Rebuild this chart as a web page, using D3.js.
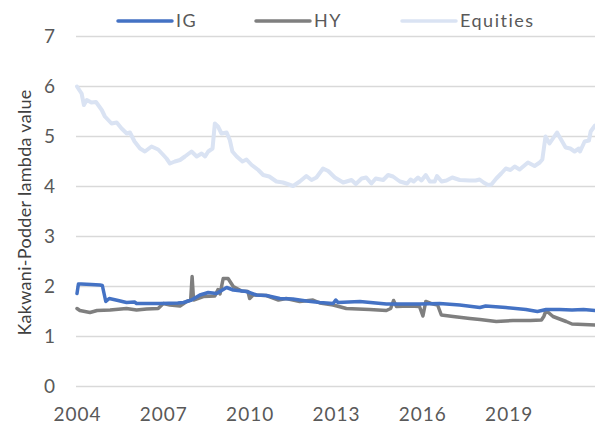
<!DOCTYPE html>
<html>
<head>
<meta charset="utf-8">
<script src="https://cdn.jsdelivr.net/npm/d3@7"></script>
<style>
  body { margin: 0; background: #fff; }
  svg text { font-family: Lato, "Open Sans", sans-serif; fill: #595959; }
</style>
</head>
<body>
<div id="chart"></div>
<script>
// series: [decimal year, lambda]
const igData = [
  [2004.0, 1.86], [2004.05, 2.05], [2004.15, 2.05], [2004.5, 2.04], [2004.8, 2.03], [2004.88, 2.02],
  [2005.0, 1.70], [2005.12, 1.76], [2005.43, 1.72], [2005.72, 1.68], [2006.0, 1.69], [2006.07, 1.66],
  [2006.88, 1.66], [2007.5, 1.67], [2007.7, 1.68], [2007.98, 1.73], [2008.27, 1.83], [2008.56, 1.88],
  [2008.85, 1.86], [2009.08, 1.94], [2009.2, 1.98], [2009.43, 1.93], [2009.89, 1.90], [2010.24, 1.83],
  [2010.58, 1.82], [2011.05, 1.76], [2011.5, 1.75], [2011.97, 1.71], [2012.44, 1.68], [2012.9, 1.66],
  [2012.99, 1.73], [2013.07, 1.68], [2013.83, 1.70], [2014.75, 1.65], [2015.9, 1.65], [2016.6, 1.66],
  [2017.3, 1.63], [2018.0, 1.58], [2018.2, 1.61], [2018.9, 1.58], [2019.6, 1.54], [2020.0, 1.50],
  [2020.3, 1.54], [2020.77, 1.54], [2021.2, 1.53], [2021.6, 1.54], [2022.0, 1.52]
];
const hyData = [
  [2004.0, 1.56], [2004.1, 1.52], [2004.45, 1.48], [2004.7, 1.52], [2005.15, 1.53], [2005.72, 1.56],
  [2006.07, 1.53], [2006.42, 1.55], [2006.82, 1.56], [2007.0, 1.66], [2007.23, 1.63], [2007.58, 1.61],
  [2007.81, 1.70], [2007.95, 1.73], [2008.0, 2.20], [2008.05, 1.73], [2008.39, 1.80], [2008.79, 1.81],
  [2008.9, 1.94], [2008.97, 1.85], [2009.08, 2.16], [2009.25, 2.16], [2009.43, 2.00], [2009.72, 1.91],
  [2009.94, 1.90], [2010.0, 1.76], [2010.12, 1.83], [2010.58, 1.82], [2011.0, 1.73], [2011.27, 1.76],
  [2011.74, 1.70], [2012.2, 1.73], [2012.44, 1.67], [2012.9, 1.63], [2013.36, 1.56], [2014.17, 1.54],
  [2014.75, 1.52], [2014.9, 1.56], [2015.0, 1.72], [2015.1, 1.60], [2015.56, 1.61], [2015.9, 1.60],
  [2016.02, 1.41], [2016.12, 1.70], [2016.3, 1.66], [2016.53, 1.63], [2016.66, 1.43], [2017.07, 1.40],
  [2017.65, 1.36], [2018.0, 1.34], [2018.57, 1.30], [2019.15, 1.32], [2019.75, 1.32], [2020.14, 1.33],
  [2020.22, 1.40], [2020.3, 1.52], [2020.54, 1.40], [2021.0, 1.30], [2021.2, 1.25], [2022.0, 1.23]
];
const eqData = [
  [2004.0, 6.00], [2004.16, 5.86], [2004.24, 5.63], [2004.34, 5.73], [2004.5, 5.68], [2004.66, 5.69],
  [2004.86, 5.53], [2004.97, 5.40], [2005.2, 5.26], [2005.38, 5.28], [2005.55, 5.16], [2005.73, 5.06],
  [2005.84, 5.08], [2006.0, 4.90], [2006.19, 4.76], [2006.36, 4.70], [2006.59, 4.80], [2006.82, 4.74],
  [2007.0, 4.63], [2007.11, 4.56], [2007.23, 4.46], [2007.4, 4.50], [2007.58, 4.53], [2007.75, 4.60],
  [2007.98, 4.70], [2008.16, 4.60], [2008.33, 4.66], [2008.45, 4.60], [2008.56, 4.70], [2008.71, 4.76],
  [2008.79, 5.26], [2008.9, 5.20], [2009.02, 5.06], [2009.2, 5.08], [2009.31, 4.93], [2009.4, 4.70],
  [2009.55, 4.60], [2009.75, 4.50], [2009.89, 4.54], [2010.07, 4.43], [2010.3, 4.33], [2010.47, 4.23],
  [2010.68, 4.20], [2010.93, 4.10], [2011.16, 4.08], [2011.51, 4.01], [2011.74, 4.10], [2011.97, 4.21],
  [2012.15, 4.13], [2012.32, 4.18], [2012.55, 4.36], [2012.73, 4.31], [2012.96, 4.18], [2013.25, 4.08],
  [2013.54, 4.13], [2013.69, 4.05], [2013.89, 4.16], [2014.05, 4.18], [2014.23, 4.06], [2014.38, 4.16],
  [2014.64, 4.13], [2014.81, 4.23], [2014.98, 4.20], [2015.22, 4.10], [2015.47, 4.06], [2015.59, 4.14],
  [2015.7, 4.10], [2015.85, 4.18], [2015.97, 4.12], [2016.12, 4.23], [2016.26, 4.10], [2016.43, 4.10],
  [2016.51, 4.21], [2016.67, 4.10], [2016.84, 4.12], [2017.04, 4.18], [2017.3, 4.13], [2017.64, 4.12],
  [2017.85, 4.12], [2017.99, 4.14], [2018.13, 4.08], [2018.28, 4.03], [2018.4, 4.04], [2018.57, 4.16],
  [2018.74, 4.26], [2018.9, 4.36], [2019.06, 4.33], [2019.21, 4.40], [2019.38, 4.34], [2019.67, 4.48],
  [2019.9, 4.41], [2020.08, 4.48], [2020.17, 4.54], [2020.28, 5.00], [2020.42, 4.86], [2020.68, 5.08],
  [2020.83, 4.93], [2020.98, 4.78], [2021.14, 4.76], [2021.29, 4.70], [2021.44, 4.76], [2021.48, 4.70],
  [2021.64, 4.90], [2021.79, 4.92], [2021.85, 5.10], [2022.0, 5.22]
];
const xTicks = [2004, 2007, 2010, 2013, 2016, 2019];
const yTicks = [0, 1, 2, 3, 4, 5, 6, 7];
const seriesNames = ["IG", "HY", "Equities"];
const seriesColors = ["#4472c4", "#7f7f7f", "#dae3f3"];

const width = 595, height = 426;
const margin = { top: 36.5, right: 0, bottom: 39.5, left: 77 };
const innerW = width - margin.left - margin.right;
const innerH = height - margin.top - margin.bottom;

const svg = d3.select("#chart").append("svg")
  .attr("width", width)
  .attr("height", height);

const g = svg.append("g")
  .attr("transform", `translate(${margin.left},${margin.top})`);

const x = d3.scaleLinear().domain([2004, 2022]).range([0, innerW]);
const y = d3.scaleLinear().domain([0, 7]).range([innerH, 0]);

// gridlines
g.append("g")
  .selectAll("line")
  .data(yTicks)
  .enter()
  .append("line")
  .attr("x1", -1)
  .attr("x2", innerW)
  .attr("y1", (d) => y(d))
  .attr("y2", (d) => y(d))
  .attr("stroke", "#d9d9d9")
  .attr("stroke-width", 1.5);

// y tick labels
g.append("g")
  .selectAll("text")
  .data(yTicks)
  .enter()
  .append("text")
  .attr("x", -22)
  .attr("y", (d) => y(d))
  .attr("dy", "0.36em")
  .attr("text-anchor", "end")
  .style("font-size", "19px")
  .text((d) => d);

// x tick labels
g.append("g")
  .selectAll("text")
  .data(xTicks)
  .enter()
  .append("text")
  .attr("x", (d) => x(d) + 0.5)
  .attr("y", innerH + 34.5)
  .attr("text-anchor", "middle")
  .style("font-size", "19px")
  .style("letter-spacing", "1px")
  .text((d) => d);

// y title
svg.append("text")
  .attr("transform", `translate(31,${margin.top + innerH / 2 + 1}) rotate(-90)`)
  .attr("text-anchor", "middle")
  .style("font-size", "18px")
  .style("letter-spacing", "0.3px")
  .style("fill", "#404040")
  .text("Kakwani-Podder lambda value");

const line = d3.line()
  .x((d) => x(d[0]))
  .y((d) => y(d[1]));

const allSeries = [igData, hyData, eqData];
// equities first so it sits underneath
[2, 1, 0].forEach((i) => {
  g.append("path")
    .datum(allSeries[i])
    .attr("d", line)
    .attr("fill", "none")
    .attr("stroke", seriesColors[i])
    .attr("stroke-width", i === 2 ? 4 : 3.5)
    .attr("stroke-linejoin", "round")
    .attr("stroke-linecap", "round");
});

// legend
const legendX = [118, 256, 402];
const legend = svg.append("g");
seriesNames.forEach((name, i) => {
  legend.append("line")
    .attr("x1", legendX[i])
    .attr("x2", legendX[i] + 54)
    .attr("y1", 21)
    .attr("y2", 21)
    .attr("stroke", seriesColors[i])
    .attr("stroke-width", 3.5)
    .attr("stroke-linecap", "round");
  legend.append("text")
    .attr("x", legendX[i] + 58)
    .attr("y", 21)
    .attr("dy", "0.36em")
    .style("font-size", "18px")
    .style("letter-spacing", "1.5px")
    .text(name);
});
</script>
</body>
</html>
